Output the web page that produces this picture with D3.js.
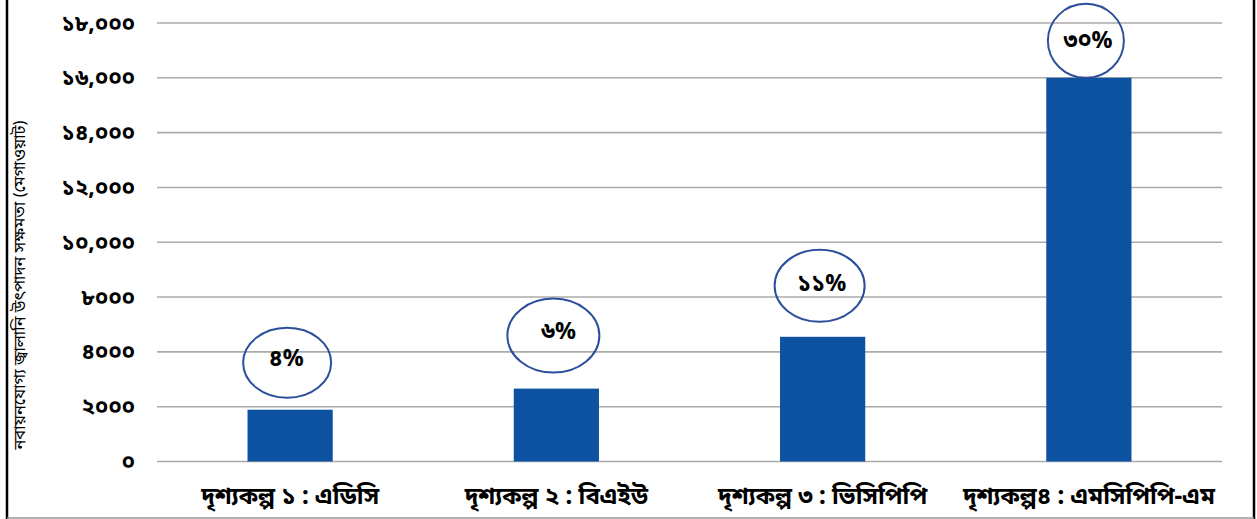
<!DOCTYPE html>
<html>
<head>
<meta charset="utf-8">
<script src="https://cdn.jsdelivr.net/npm/d3@7"></script>
<style>
  html, body { margin: 0; padding: 0; background: #fff; }
  svg { display: block; }
  text { font-family: "Noto Sans Bengali", "Noto Serif Bengali", "Lohit Bengali", "FreeSans", "Noto Sans", sans-serif; fill: #000; }
</style>
</head>
<body>
<svg id="chart" width="1257" height="519"></svg>
<script>
// ---- data ----
const categories = ["দৃশ্যকল্প ১ : এডিসি", "দৃশ্যকল্প ২ : বিএইউ", "দৃশ্যকল্প ৩ : ভিসিপিপি", "দৃশ্যকল্প৪ : এমসিপিপি-এম"];
const values = [1890, 2660, 4550, 14000];
const shareLabels = ["৪%", "৬%", "১১%", "৩০%"];
const tickValues = [0, 2000, 4000, 6000, 8000, 10000, 12000, 14000, 16000];
// tick labels exactly as printed on the original axis
const tickLabels = ["০", "২০০০", "৪০০০", "৮০০০", "১০,০০০", "১২,০০০", "১৪,০০০", "১৬,০০০", "১৮,০০০"];
const yTitle = "নবায়নযোগ্য জ্বালানি উৎপাদন সক্ষমতা  (মেগাওয়াট)";

// ---- layout / style ----
const W = 1257, H = 519;
const plot = { left: 157, right: 1222, top: 23, bottom: 461.5 };
const barColor = "#0d52a1";
const ellipseColor = "#2c4f9c";
const ellipseStyle = [
  { gap: 12, rx: 44, ry: 35, dx: -4, dy: -5 },
  { gap: 16, rx: 46, ry: 37, dx: 2, dy: -5 },
  { gap: 15, rx: 45, ry: 36, dx: -1, dy: -3 },
  { gap: 0, rx: 38, ry: 37, dx: -1, dy: -1 }
];

const svg = d3.select("#chart");

const x = d3.scaleBand().domain(categories).range([plot.left, plot.right]).paddingInner(0.68).paddingOuter(0.34);
const y = d3.scaleLinear().domain([0, 16000]).range([plot.bottom, plot.top]);

// gridlines
svg.append("g")
  .selectAll("line")
  .data(tickValues)
  .join("line")
  .attr("x1", plot.left).attr("x2", plot.right)
  .attr("y1", d => y(d)).attr("y2", d => y(d))
  .attr("stroke", "#ababab").attr("stroke-width", 1.6);

// y axis labels
const yAxis = d3.axisLeft(y)
  .tickValues(tickValues)
  .tickFormat((d, i) => tickLabels[i])
  .tickSize(0)
  .tickPadding(0);
const gy = svg.append("g").attr("transform", "translate(135,0)").call(yAxis);
gy.select(".domain").remove();
gy.selectAll("text")
  .style("font-size", "22px").style("font-weight", "bold")
  .attr("fill", "#000").attr("dy", "0.32em");

// bars
svg.append("g")
  .selectAll("rect")
  .data(values)
  .join("rect")
  .attr("x", (d, i) => x(categories[i]))
  .attr("width", x.bandwidth())
  .attr("y", d => y(d))
  .attr("height", d => y(0) - y(d))
  .attr("fill", barColor);

// x axis labels
const xAxis = d3.axisBottom(x).tickSize(0).tickPadding(0);
const gx = svg.append("g").attr("transform", `translate(0,${plot.bottom + 35})`).call(xAxis);
gx.select(".domain").remove();
gx.selectAll("text")
  .style("font-size", "24px").style("font-weight", "bold")
  .attr("fill", "#000").attr("dy", "0.32em");

// ellipse callouts
const cg = svg.append("g");
values.forEach((v, i) => {
  const s = ellipseStyle[i];
  const cx = x(categories[i]) + x.bandwidth() / 2;
  const cy = y(v) - s.gap - s.ry;
  cg.append("ellipse")
    .attr("cx", cx - 3).attr("cy", cy)
    .attr("rx", s.rx).attr("ry", s.ry)
    .attr("fill", "none").attr("stroke", ellipseColor).attr("stroke-width", 2);
  cg.append("text")
    .attr("x", cx + s.dx).attr("y", cy + s.dy)
    .attr("text-anchor", "middle").attr("dy", "0.35em")
    .style("font-size", "23px").style("font-weight", "bold")
    .text(shareLabels[i]);
});

// y title
svg.append("text")
  .attr("transform", `translate(19,${(118 + 452) / 2}) rotate(-90)`)
  .attr("text-anchor", "middle").attr("dy", "0.35em")
  .style("font-size", "16.5px")
  .text(yTitle);

// frame
svg.append("line").attr("x1", 7).attr("x2", 7).attr("y1", 0).attr("y2", H).attr("stroke", "#000").attr("stroke-width", 2.5);
svg.append("line").attr("x1", 1254).attr("x2", 1254).attr("y1", 0).attr("y2", H).attr("stroke", "#000").attr("stroke-width", 2.5);
svg.append("line").attr("x1", 7).attr("x2", 1254).attr("y1", 518).attr("y2", 518).attr("stroke", "#999").attr("stroke-width", 1.5);
</script>
</body>
</html>
